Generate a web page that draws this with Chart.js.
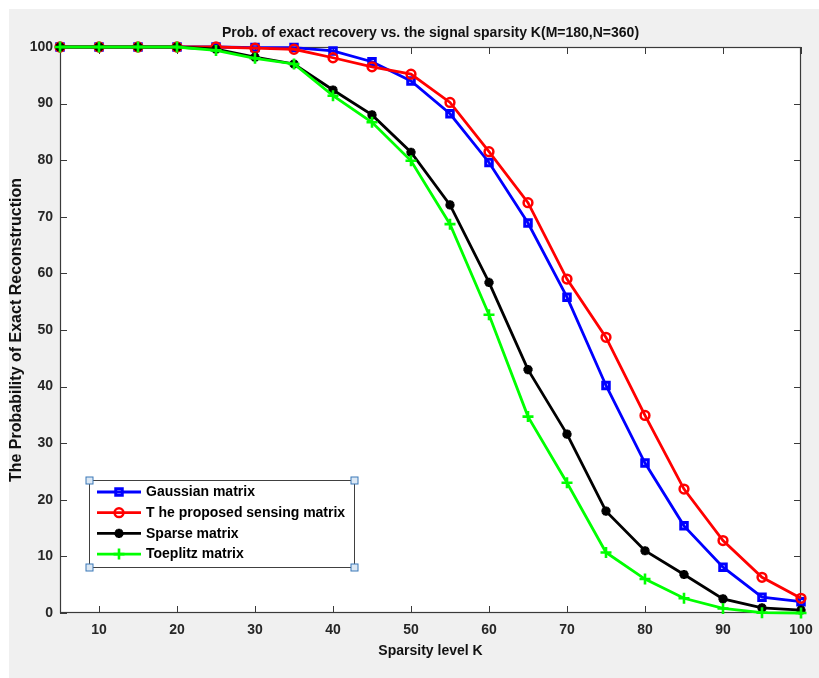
<!DOCTYPE html>
<html><head><meta charset="utf-8">
<script src="https://cdn.jsdelivr.net/npm/chart.js@4.4.0/dist/chart.umd.min.js"></script>
<style>html,body{margin:0;padding:0;background:#fff;}canvas{display:block;}</style>
</head><body>
<canvas id="c" width="819" height="678"></canvas>
<script>
// ---- data ----
const sparsityK = [5,10,15,20,25,30,35,40,45,50,55,60,65,70,75,80,85,90,95,100];
const xTickValues = [10,20,30,40,50,60,70,80,90,100];
const yTickValues = [0,10,20,30,40,50,60,70,80,90,100];
const gaussianMatrix = [100,100,100,100,100,99.9,99.9,99.3,97.4,94.0,88.2,79.6,68.9,55.8,40.2,26.5,15.4,8.1,2.8,2.0];
const proposedMatrix = [100,100,100,100,100,99.8,99.6,98.1,96.5,95.2,90.2,81.5,72.5,59.0,48.7,34.9,21.9,12.8,6.3,2.6];
const sparseMatrix   = [100,100,100,100,99.6,98.2,97.0,92.4,88.0,81.4,72.1,58.4,43.0,31.6,18.0,11.0,6.8,2.5,0.9,0.5];
const toeplitzMatrix = [100,100,100,100,99.4,98.0,97.0,91.4,86.7,79.9,68.7,52.7,34.7,23.0,10.7,6.0,2.6,0.8,0.05,0];
const seriesLabels = ['Gaussian matrix','T he proposed sensing matrix','Sparse matrix','Toeplitz matrix'];
const chartTitle = 'Prob. of exact recovery vs. the signal sparsity K(M=180,N=360)';
const xTitle = 'Sparsity level K';
const yTitle = 'The Probability of Exact Reconstruction';

const FONT = "'Liberation Sans', Arial, Helvetica, sans-serif";
const toXY = vals => sparsityK.map((k,i)=>({x:k, y:vals[i]}));

function ds(label, vals, color, style, radius, pbw, order){
  return {label, data: toXY(vals), borderColor: color, backgroundColor: 'transparent',
    pointBorderColor: color, pointBackgroundColor: 'transparent', borderWidth: 2.8,
    pointStyle: style, pointRadius: radius, pointBorderWidth: pbw, pointHoverRadius: radius,
    tension: 0, clip: false, order};
}

const framePlugin = {
  id: 'frame',
  beforeDraw(chart){
    const {ctx, chartArea: a} = chart;
    ctx.save();
    ctx.fillStyle = '#f0f0f0';
    ctx.fillRect(9, 9, chart.width - 9, chart.height - 9);
    ctx.fillStyle = '#ffffff';
    ctx.fillRect(a.left, a.top, a.right - a.left, a.bottom - a.top);
    ctx.restore();
  },
  beforeDatasetsDraw(chart){
    const {ctx, chartArea: a, scales: {x, y}} = chart;
    ctx.save();
    ctx.strokeStyle = '#3a3a3a';
    ctx.lineWidth = 1.2;
    ctx.strokeRect(Math.round(a.left)+0.5, Math.round(a.top)+0.5, Math.round(a.right - a.left) - 1, Math.round(a.bottom - a.top) - 1);
    const L = 7;
    ctx.lineWidth = 1;
    ctx.beginPath();
    x.ticks.forEach(t => {
      const p = Math.round(x.getPixelForValue(t.value)) + 0.5;
      ctx.moveTo(p, a.bottom); ctx.lineTo(p, a.bottom - L);
      ctx.moveTo(p, a.top); ctx.lineTo(p, a.top + L);
    });
    y.ticks.forEach(t => {
      const p = Math.round(y.getPixelForValue(t.value)) + 0.5;
      ctx.moveTo(a.left, p); ctx.lineTo(a.left + L, p);
      ctx.moveTo(a.right, p); ctx.lineTo(a.right - L, p);
    });
    ctx.stroke();
    ctx.restore();
  },
  afterDatasetsDraw(chart){
    const {ctx, chartArea: a} = chart;
    const bx = a.left + 29, by = a.bottom - 133, bw = 265, bh = 87;
    ctx.save();
    ctx.fillStyle = '#ffffff';
    ctx.fillRect(bx, by, bw, bh);
    ctx.strokeStyle = '#404040';
    ctx.lineWidth = 1;
    ctx.strokeRect(bx + 0.5, by + 0.5, bw, bh);
    chart.data.datasets.forEach((d, i) => {
      const yy = by + 12 + i * 20.7;
      ctx.strokeStyle = d.borderColor;
      ctx.lineWidth = 2.8;
      ctx.beginPath();
      ctx.moveTo(bx + 8, yy); ctx.lineTo(bx + 52, yy);
      ctx.stroke();
      ctx.lineWidth = d.pointBorderWidth;
      ctx.fillStyle = 'transparent';
      Chart.helpers.drawPoint(ctx, {pointStyle: d.pointStyle, radius: d.pointRadius, rotation: 0, borderWidth: d.pointBorderWidth}, bx + 30, yy);
      ctx.fillStyle = '#000';
      ctx.font = 'bold 14px ' + FONT;
      ctx.textBaseline = 'middle';
      ctx.textAlign = 'left';
      ctx.fillText(d.label, bx + 57, yy + 0.5);
    });
    // selection handles at the legend corners
    const hs = 7;
    [[bx, by], [bx + bw, by], [bx, by + bh], [bx + bw, by + bh]].forEach(([hx, hy]) => {
      ctx.fillStyle = '#dce8f4';
      ctx.strokeStyle = '#3a78b8';
      ctx.lineWidth = 1;
      ctx.fillRect(hx - hs/2 + 0.5, hy - hs/2 + 0.5, hs, hs);
      ctx.strokeRect(hx - hs/2 + 0.5, hy - hs/2 + 0.5, hs, hs);
    });
    ctx.restore();
  }
};

new Chart(document.getElementById('c'), {
  type: 'line',
  data: {
    datasets: [
      ds(seriesLabels[0], gaussianMatrix, '#0000ff', 'rect', 4.6, 3, 3),
      ds(seriesLabels[1], proposedMatrix, '#ff0000', 'circle', 4.4, 2.5, 2),
      ds(seriesLabels[2], sparseMatrix, '#000000', 'star', 4.6, 3, 1),
      ds(seriesLabels[3], toeplitzMatrix, '#00ff00', 'cross', 5.5, 2.6, 0)
    ]
  },
  options: {
    responsive: false,
    devicePixelRatio: 1,
    animation: false,
    events: [],
    layout: {padding: {left: 0, right: 18, top: 0, bottom: 0}},
    plugins: {
      legend: {display: false},
      tooltip: {enabled: false},
      title: {display: true, text: chartTitle, fullSize: false, color: '#111',
        font: {family: FONT, size: 14, weight: 'bold'}, padding: {top: 24.6, bottom: 5.6}}
    },
    scales: {
      x: {
        type: 'linear', min: 5, max: 100,
        afterBuildTicks: s => { s.ticks = xTickValues.map(v => ({value: v})); },
        afterFit: s => { s.height = 65; s.paddingLeft = 0; s.paddingRight = 0; },
        grid: {display: false, drawTicks: false},
        border: {display: false},
        ticks: {color: '#262626', padding: 9, font: {family: FONT, size: 14, weight: 'bold'}},
        title: {display: true, text: xTitle, color: '#111', padding: {top: 0, bottom: 18.6},
          font: {family: FONT, size: 14, weight: 'bold'}}
      },
      y: {
        type: 'linear', min: 0, max: 100,
        afterBuildTicks: s => { s.ticks = yTickValues.map(v => ({value: v})); },
        afterFit: s => { s.width = 60; s.paddingTop = 0; s.paddingBottom = 0; },
        grid: {display: false, drawTicks: false},
        border: {display: false},
        ticks: {color: '#262626', padding: 7, font: {family: FONT, size: 14, weight: 'bold'}},
        title: {display: true, text: yTitle, color: '#111', padding: {top: 7.4, bottom: 0},
          font: {family: FONT, size: 16, weight: 'bold'}}
      }
    }
  },
  plugins: [framePlugin]
});
</script>
</body></html>
